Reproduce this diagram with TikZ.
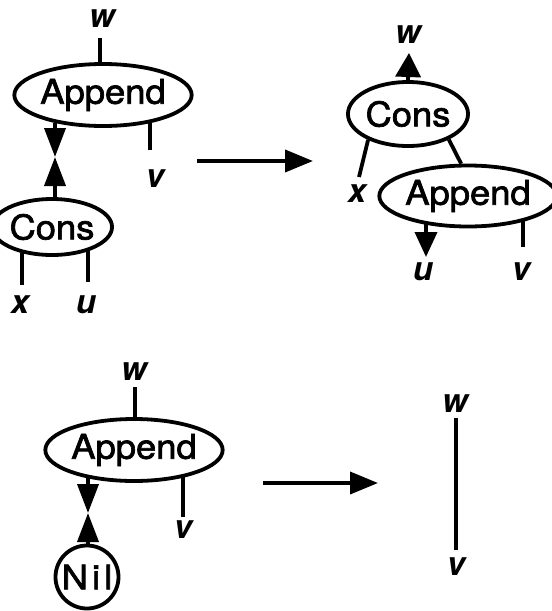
\documentclass[tikz,border=0pt]{standalone}
\usepackage{fontspec}
\setmainfont{TeX Gyre Heros}
\newfontfamily\ovalfont[FakeBold=2,FakeStretch=1.07]{TeX Gyre Heros}
\usetikzlibrary{arrows.meta,shapes.geometric}
\begin{document}
\begin{tikzpicture}[x=1pt,y=-1pt,line width=3.8pt,
  oval/.style={draw,ellipse,inner sep=0pt,font=\ovalfont\fontsize{34}{34}\selectfont},
  ring/.style={draw,circle,inner sep=0pt,font=\ovalfont\fontsize{34}{34}\selectfont},
  lbl/.style={anchor=base,inner sep=0pt,font=\fontsize{33}{33}\selectfont\bfseries\itshape},
  dtip/.style={-{Triangle[length=29pt,width=21pt]}},
  mtip/.style={-{Triangle[length=28pt,width=22pt]}},
  btip/.style={-{Triangle[length=24pt,width=25pt]}},
  utip/.style={-{Triangle[length=25pt,width=22pt]}}]
\useasboundingbox (0,0) rectangle (552,611);

% ---------- top left ----------
\node[oval,minimum width=159pt,minimum height=62pt] (A1) at (103,95) {Append};
\node[oval,minimum width=96pt,minimum height=56pt] (C1) at (52,227) {Cons};
\node[lbl] (w1) at (102,27) {w};
\node[lbl] (v1) at (155,187) {v};
\node[lbl] (x1) at (20,313) {x};
\node[lbl] (u1) at (86,313) {u};
\coordinate (w1e) at (100,38);
\coordinate (m1) at (55,157);
\coordinate (v1e) at (150,150);
\coordinate (x1e) at (22,285);
\coordinate (u1e) at (88,282);
\draw (w1e) -- (w1e |- A1.north);
\draw[dtip] (m1 |- A1.209) -- (m1);
\draw[dtip] (m1 |- C1.north) -- (m1);
\draw (v1e |- A1.330) -- (v1e);
\draw (x1e |- C1.219) -- (x1e);
\draw (u1e |- C1.330) -- (u1e);

% ---------- arrow 1 ----------
\coordinate (r1s) at (197,161);
\coordinate (r1e) at (313,161);
\draw[mtip] (r1s) -- (r1e);

% ---------- top right ----------
\node[oval,minimum width=97pt,minimum height=64pt] (C2) at (408,114) {Cons};
\node[oval,minimum width=155pt,minimum height=61pt] (A2) at (468,196) {Append};
\node[lbl] (w2) at (408,43) {w};
\node[lbl] (x2) at (357,202) {x};
\node[lbl] (u2) at (423,280) {u};
\node[lbl] (v2) at (521,280) {v};
\coordinate (w2e) at (409,53);
\coordinate (x2e) at (359,177);
\coordinate (u2e) at (426,257);
\coordinate (v2e) at (523,247);
\draw[btip] (C2.north) -- (w2e);
\draw (C2.213) -- (x2e);
\draw (C2.328) -- (A2.102);
\draw[utip] (u2e |- A2.213) -- (u2e);
\draw (v2e |- A2.337) -- (v2e);

% ---------- bottom left ----------
\node[oval,minimum width=161pt,minimum height=62pt] (A3) at (134,450) {Append};
\node[ring,minimum size=63pt] (N3) at (87,577) {\addfontfeature{LetterSpace=12}Nil};
\node[lbl] (w3) at (134,380) {w};
\node[lbl] (v3) at (183,538) {v};
\coordinate (w3e) at (135,387);
\coordinate (m3) at (88,513);
\coordinate (v3e) at (183,517);
\draw (w3e) -- (w3e |- A3.north);
\draw[dtip] (m3 |- A3.211) -- (m3);
\draw[dtip] (m3 |- N3.north) -- (m3);
\draw (v3e |- A3.332) -- (v3e);

% ---------- arrow 2 ----------
\coordinate (r2s) at (263,483);
\coordinate (r2e) at (378,483);
\draw[mtip] (r2s) -- (r2e);

% ---------- bottom right ----------
\node[lbl] (w4) at (455,412) {w};
\node[lbl] (v4) at (456,575) {v};
\coordinate (w4e) at (456,418);
\coordinate (v4e) at (456,550);
\draw (w4e) -- (v4e);
\end{tikzpicture}
\end{document}
